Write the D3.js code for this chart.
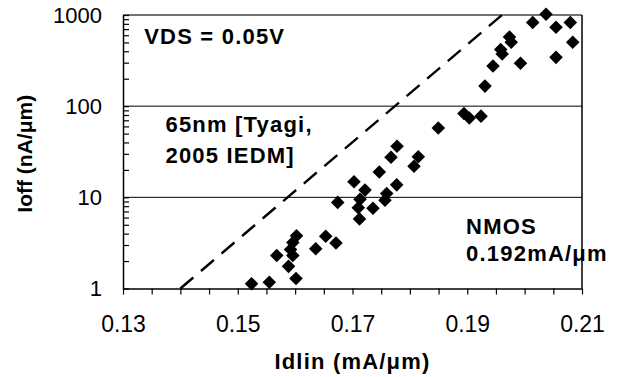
<!DOCTYPE html>
<html><head><meta charset="utf-8">
<script src="https://cdn.jsdelivr.net/npm/d3@7"></script>
<style>
body{margin:0;background:#fff}
svg{display:block;background:#fff}
text{font-family:"Liberation Sans",Arial,Helvetica,sans-serif;fill:#000}
</style>
</head><body>
<svg id="chart" width="617" height="377"></svg>
<script>
// Data
const idlin = [0.1524,0.1555,0.1568,0.15885,0.1592,0.1596,0.1596,0.16024,0.16015,0.16359,
  0.16533,0.16712,0.16742,0.17026,0.17218,0.17131,0.17101,0.17122,0.17357,0.17467,
  0.17596,0.17566,0.17671,0.17776,0.1777,0.18072,0.18147,0.18495,0.18943,0.19036,
  0.1924,0.19309,0.19449,0.19583,0.19609,0.19736,0.19766,0.19928,0.20141,0.20373,
  0.20547,0.20796,0.20547,0.20838];
const ioff = [1.13,1.17,2.3,1.75,2.68,2.3,3.2,3.78,1.29,2.73,
  3.75,3.15,8.8,14.8,12.0,9.5,7.7,5.8,7.6,19.0,
  11.0,9.3,27.5,36.3,13.7,21.9,27.9,57.7,83.2,74.2,
  77.7,166,276,418,373,573,502,295,827,1020,
  734,827,343,502];
const refLineX = [0.14, 0.1966];
const refLineY = [1, 1070];
const xLabelTicks = [0.13, 0.15, 0.17, 0.19, 0.21];
const yLabelTicks = [1, 10, 100, 1000];
const gridValues = [10, 100];
const xTitle = "Idlin (mA/\u03BCm)";
const yTitle = "Ioff (nA/\u03BCm)";
const notes = [
  {text: "VDS = 0.05V", x: 0.1337, y: 480},
  {text: "65nm [Tyagi,", x: 0.1374, y: 52},
  {text: "2005 IEDM]", x: 0.1374, y: 24},
  {text: "NMOS", x: 0.1898, y: 4.0},
  {text: "0.192mA/\u03BCm", x: 0.1898, y: 1.98}
];

const svg = d3.select("#chart");
const L = 123, R = 582, T = 15, B = 288.5;
const x = d3.scaleLinear().domain([0.13, 0.21]).range([L, R]);
const y = d3.scaleLog().domain([1, 1000]).range([B, T]);

// gridlines
svg.append("g").selectAll("line").data(gridValues).join("line")
  .attr("x1", L).attr("x2", R).attr("y1", d => y(d)).attr("y2", d => y(d))
  .attr("stroke", "#000").attr("stroke-width", 1);

// border top/right
svg.append("line").attr("x1", L).attr("x2", R).attr("y1", y(1000)).attr("y2", y(1000))
  .attr("stroke", "#444").attr("stroke-width", 1.5);
svg.append("line").attr("x1", R).attr("x2", R).attr("y1", y(1000)).attr("y2", y(1))
  .attr("stroke", "#000").attr("stroke-width", 1.5);

// x axis
const xMinor = d3.range(0, 17).map(i => +(0.13 + i * 0.005).toFixed(3));
const xAxis = d3.axisBottom(x).tickValues(xMinor).tickSizeInner(6).tickSizeOuter(0)
  .tickPadding(21)
  .tickFormat(d => xLabelTicks.some(v => Math.abs(v - d) < 1e-9) ? d3.format(".2f")(d) : "");
const gx = svg.append("g").attr("transform", `translate(0,${B})`).call(xAxis);
gx.select(".domain").attr("stroke", "#000").attr("stroke-width", 1.5);
gx.selectAll(".tick line").attr("stroke", "#000").attr("stroke-width", 1.2);
gx.selectAll("text").attr("font-size", 23).attr("fill", "#000");

// y axis
const yMinor = [];
[1, 10, 100].forEach(p => { for (let k = 1; k < 10; k++) yMinor.push(p * k); });
yMinor.push(1000);
const yAxis = d3.axisLeft(y).tickValues(yMinor).tickSizeInner(-6).tickSizeOuter(0)
  .tickPadding(21)
  .tickFormat(d => yLabelTicks.includes(d) ? String(d) : "");
const gy = svg.append("g").attr("transform", `translate(${L},0)`).call(yAxis);
gy.select(".domain").attr("stroke", "#000").attr("stroke-width", 1.5);
gy.selectAll(".tick line").attr("stroke", "#000").attr("stroke-width", 1.2);
gy.selectAll("text").attr("font-size", 22).attr("fill", "#000");

// reference dashed line
const line = d3.line().x(d => x(d[0])).y(d => y(d[1]));
svg.append("path").datum(refLineX.map((v, i) => [v, refLineY[i]]))
  .attr("d", line).attr("fill", "none").attr("stroke", "#000")
  .attr("stroke-width", 2.4).attr("stroke-dasharray", "17,10");

// diamonds
const sym = d3.symbol(d3.symbolSquare).size(92);
svg.append("g").selectAll("path").data(idlin.map((v, i) => [v, ioff[i]])).join("path")
  .attr("d", sym)
  .attr("transform", d => `translate(${x(d[0])},${y(d[1])}) rotate(45)`)
  .attr("fill", "#000");

// annotations
svg.append("g").selectAll("text").data(notes).join("text")
  .attr("x", d => x(d.x)).attr("y", d => y(d.y))
  .attr("font-size", 22).attr("font-weight", "bold").attr("letter-spacing", 1.2)
  .text(d => d.text);

// axis titles
svg.append("text").attr("x", (L + R) / 2).attr("y", 369)
  .attr("text-anchor", "middle").attr("font-size", 22).attr("font-weight", "bold")
  .attr("letter-spacing", 1.2).text(xTitle);
svg.append("text").attr("transform", `translate(32,${(T + B) / 2 + 2}) rotate(-90)`)
  .attr("text-anchor", "middle").attr("font-size", 21).attr("font-weight", "bold")
  .text(yTitle);
</script>
</body></html>
